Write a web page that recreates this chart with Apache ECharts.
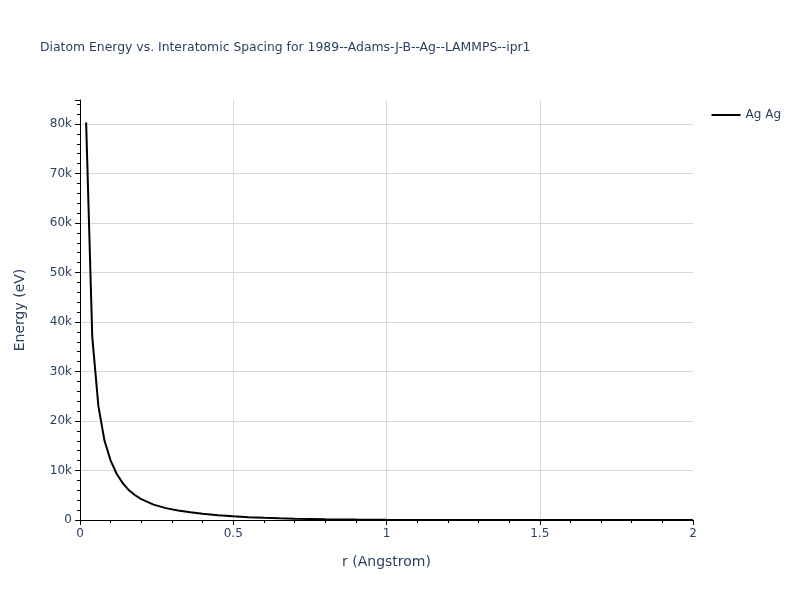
<!DOCTYPE html>
<html>
<head>
<meta charset="utf-8">
<script src="https://cdn.jsdelivr.net/npm/echarts@6/dist/echarts.min.js"></script>
<style>html,body{margin:0;padding:0;background:#fff}#c{width:800px;height:600px}</style>
</head>
<body>
<div id="c"></div>
<script>
var titleText = 'Diatom Energy vs. Interatomic Spacing for 1989--Adams-J-B--Ag--LAMMPS--ipr1';
var seriesName = 'Ag Ag';
var rValues = [0.02, 0.04, 0.06, 0.08, 0.10, 0.12, 0.14, 0.16, 0.18, 0.20, 0.24, 0.28, 0.32, 0.36, 0.40, 0.45, 0.50, 0.55, 0.60, 0.65, 0.70, 0.80, 0.90, 1.00, 1.20, 1.40, 1.60, 1.80, 2.00];
var energyValues = [80300, 37000, 23000, 16000, 12000, 9300, 7400, 6000, 5000, 4200, 3100, 2400, 1900, 1550, 1250, 950, 740, 580, 440, 330, 250, 140, 80, 40, 10, 3, 1, 0, 0];
var yTickValues = [0, 10000, 20000, 30000, 40000, 50000, 60000, 70000, 80000];

var data = rValues.map(function (r, i) { return [r, energyValues[i]]; });
var txt = '#2a3f5f';
var font = '"DejaVu Sans", verdana, sans-serif';
var chart = echarts.init(document.getElementById('c'), null, {renderer: 'canvas'});
chart.setOption({
  animation: false,
  backgroundColor: '#fff',
  textStyle: {fontFamily: font, color: txt},
  title: {
    text: titleText, left: 35, top: 37,
    textStyle: {fontFamily: font, fontSize: 12.4, fontWeight: 'normal', color: txt}
  },
  legend: {
    right: 14, top: 104, orient: 'vertical',
    icon: 'rect', itemWidth: 29, itemHeight: 2, itemGap: 6,
    textStyle: {fontFamily: font, fontSize: 12, color: txt},
    data: [seriesName]
  },
  grid: {left: 80, right: 107, top: 100, bottom: 80, containLabel: false},
  xAxis: {
    type: 'value', min: 0, max: 2, interval: 0.5,
    name: 'r (Angstrom)', nameLocation: 'middle', nameGap: 35,
    nameTextStyle: {fontFamily: font, fontSize: 14, color: txt},
    axisLine: {show: true, onZero: false, lineStyle: {color: '#000', width: 1}},
    axisTick: {show: true, inside: false, length: 5, lineStyle: {color: '#000'}},
    minorTick: {show: true, splitNumber: 5, length: 3, lineStyle: {color: '#000'}},
    axisLabel: {fontFamily: font, fontSize: 12, color: txt, margin: 8,
      formatter: function (v) { return String(+v.toFixed(2)); }},
    splitLine: {show: true, showMinLine: false, showMaxLine: false, lineStyle: {color: '#d9d9d9', width: 1}}
  },
  yAxis: {
    type: 'value', min: 0, max: 84850, interval: 10000,
    name: 'Energy (eV)', nameLocation: 'middle', nameGap: 53, nameRotate: 90,
    nameTextStyle: {fontFamily: font, fontSize: 14, color: txt},
    axisLine: {show: true, lineStyle: {color: '#000', width: 1}},
    axisTick: {show: true, inside: false, length: 5, lineStyle: {color: '#000'}},
    minorTick: {show: true, splitNumber: 5, length: 3, lineStyle: {color: '#000'}},
    axisLabel: {fontFamily: font, fontSize: 12, color: txt, margin: 8, showMaxLabel: false,
      formatter: function (v) {
        if (yTickValues.indexOf(v) < 0) return '';
        return v === 0 ? '0' : (v / 1000) + 'k';
      }},
    splitLine: {show: true, showMinLine: false, showMaxLine: false, lineStyle: {color: '#d9d9d9', width: 1}}
  },
  series: [{
    name: seriesName, type: 'line', data: data,
    symbol: 'none', smooth: false,
    lineStyle: {color: '#000', width: 2},
    itemStyle: {color: '#000'}
  }]
});
</script>
</body>
</html>
